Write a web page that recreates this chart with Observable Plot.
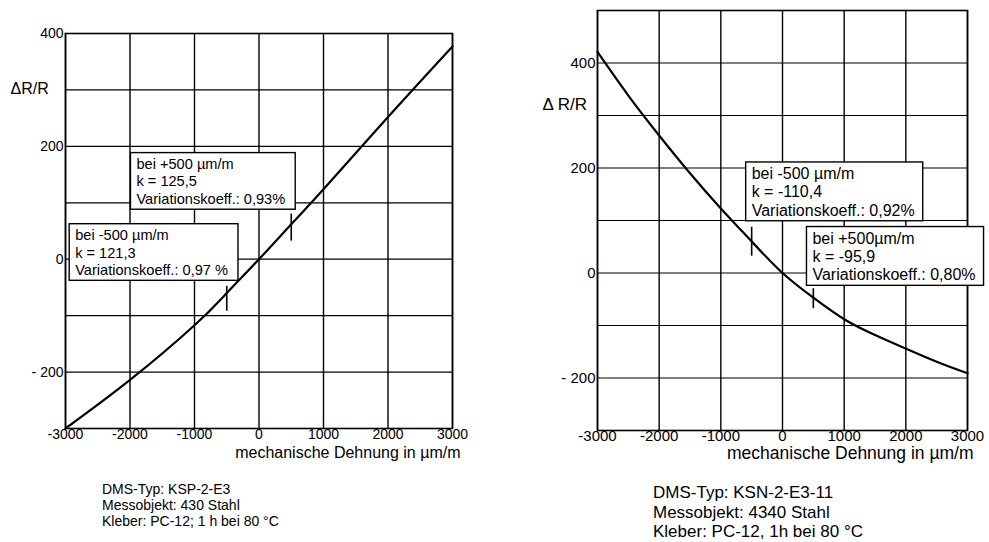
<!DOCTYPE html>
<html><head><meta charset="utf-8">
<script src="https://cdn.jsdelivr.net/npm/d3@7"></script>
<script src="https://cdn.jsdelivr.net/npm/@observablehq/plot@0.6"></script>
<style>
body{margin:0;background:#fff;font-family:"Liberation Sans",Arial,sans-serif;}
#wrap{position:relative;width:989px;height:542px;overflow:hidden;background:#fff;}
.panel{position:absolute;top:0;}
.cap{position:absolute;color:#000;white-space:pre;font-family:"Liberation Sans",Arial,sans-serif;}
</style></head><body><div id="wrap"></div>
<script>
// ---- data ----
const xTicks = [-3000, -2000, -1000, 0, 1000, 2000, 3000];
const xTickLabels = ["-3000", "-2000", "-1000", "0", "1000", "2000", "3000"];
const yTicks = [-200, 0, 200, 400];
const yTickLabels = ["- 200", "0", "200", "400"];

const leftStrain = [-3000, -2000, -1000, -500, 0, 500, 1000, 2000, 3000];
const leftDR     = [-300, -214, -117, -60, 0, 62, 124, 252, 377];
const leftMarkX  = [-500, 500];
const leftMarkY1 = [-48, 32];
const leftMarkY2 = [-92, 80];
const leftAnnX = [-1900, -2850];
const leftAnnY = [183, 57];
const leftAnnText = [
  "bei +500 µm/m\nk = 125,5\nVariationskoeff.: 0,93%",
  "bei -500 µm/m\nk = 121,3\nVariationskoeff.: 0,97 %"
];
const leftCaption = ["DMS-Typ: KSP-2-E3", "Messobjekt: 430 Stahl", "Kleber: PC-12; 1 h bei 80 °C"];

const rightStrain = [-3000, -2500, -2000, -1500, -1000, -500, 0, 500, 1000, 1500, 2000, 2500, 3000];
const rightDR     = [421, 338, 262, 190, 123, 60, 0, -47, -88, -118, -144, -169, -191];
const rightMarkX  = [-500, 500];
const rightMarkY1 = [32, -30];
const rightMarkY2 = [87, -68];
const rightAnnX = [-500, 486];
const rightAnnY = [204, 81];
const rightAnnText = [
  "bei -500 µm/m\nk = -110,4\nVariationskoeff.: 0,92%",
  "bei +500µm/m\nk = -95,9\nVariationskoeff.: 0,80%"
];
const rightCaption = ["DMS-Typ: KSN-2-E3-11", "Messobjekt: 4340 Stahl", "Kleber: PC-12, 1h bei 80 °C"];

const xTitle = "mechanische Dehnung in µm/m";

// ---- drawing ----
const wrap = document.getElementById("wrap");
const xLab = new Map(xTicks.map((d, i) => [d, xTickLabels[i]]));
const yLab = new Map(yTicks.map((d, i) => [d, yTickLabels[i]]));

function panel(cfg) {
  const pts = cfg.strain.map((x, i) => ({x, y: cfg.dr[i]}));
  const marks = cfg.markX.map((x, i) => ({x, y1: cfg.markY1[i], y2: cfg.markY2[i]}));
  const anns = cfg.annX.map((x, i) => ({x, y: cfg.annY[i], text: cfg.annText[i]}));
  const yGrid = d3.range(cfg.yDomain[0], cfg.yDomain[1] + 1, 100);
  const svg = Plot.plot({
    width: cfg.width, height: cfg.height,
    marginLeft: cfg.ml, marginRight: cfg.mr, marginTop: cfg.mt, marginBottom: cfg.mb,
    x: {domain: [-3000, 3000]},
    y: {domain: cfg.yDomain},
    style: {fontFamily: '"Liberation Sans", Arial, sans-serif', color: "#000", background: "#fff"},
    marks: [
      Plot.gridX(xTicks, {stroke: "#000", strokeOpacity: 1, strokeWidth: 1.4}),
      Plot.gridY(yGrid, {stroke: "#000", strokeOpacity: 1, strokeWidth: 1.2}),
      Plot.frame({stroke: "#000", strokeWidth: 1.6}),
      Plot.axisX(xTicks, {tickSize: 0, tickPadding: cfg.xPad, tickFormat: d => xLab.get(d), label: null, fontSize: cfg.tickFont}),
      Plot.axisY(yTicks, {tickSize: 0, tickPadding: 2, tickFormat: d => yLab.get(d), label: null, fontSize: cfg.tickFont}),
      Plot.line(pts, {x: "x", y: "y", curve: "natural", stroke: "#000", strokeWidth: 2.2}),
      Plot.ruleX(marks, {x: "x", y1: "y1", y2: "y2", stroke: "#000", strokeWidth: 1.6}),
      Plot.text([cfg.yTitle], {text: d => d, frameAnchor: "top-left", dx: cfg.yTdx, dy: cfg.yTdy, textAnchor: "start", fontSize: cfg.yTitleFont}),
      Plot.text([xTitle], {text: d => d, frameAnchor: "bottom-right", dx: cfg.xTdx, dy: cfg.xTdy, textAnchor: "end", fontSize: cfg.xTitleFont}),
      Plot.text(anns, {x: "x", y: "y", text: "text", textAnchor: "start", lineAnchor: "top", lineHeight: cfg.annLH, fontSize: cfg.annFont})
    ]
  });
  const div = document.createElement("div");
  div.className = "panel";
  div.style.left = cfg.left + "px";
  div.appendChild(svg);
  wrap.appendChild(div);
  // boxes behind annotation text (last text mark group)
  const groups = svg.querySelectorAll('g[aria-label="text"]');
  const annGroup = groups[groups.length - 1];
  annGroup.querySelectorAll("text").forEach(t => {
    const b = t.getBBox();
    const r = document.createElementNS("http://www.w3.org/2000/svg", "rect");
    r.setAttribute("x", b.x - 6);
    r.setAttribute("y", b.y - 3);
    r.setAttribute("width", b.width + 6 + cfg.padR);
    r.setAttribute("height", b.height + 5);
    r.setAttribute("fill", "#fff");
    r.setAttribute("stroke", "#000");
    r.setAttribute("stroke-width", 1.4);
    if (t.getAttribute("transform")) r.setAttribute("transform", t.getAttribute("transform"));
    t.parentNode.insertBefore(r, t);
  });
  const cap = document.createElement("div");
  cap.className = "cap";
  cap.style.left = cfg.capX + "px";
  cap.style.top = cfg.capY + "px";
  cap.style.fontSize = cfg.capFont + "px";
  cap.style.lineHeight = cfg.capLH + "px";
  cap.textContent = cfg.caption.join("\n");
  wrap.appendChild(cap);
}

panel({
  left: 0, width: 520, height: 470, ml: 65, mr: 68, mt: 33, mb: 42,
  yDomain: [-300, 400], strain: leftStrain, dr: leftDR,
  markX: leftMarkX, markY1: leftMarkY1, markY2: leftMarkY2,
  annX: leftAnnX, annY: leftAnnY, annText: leftAnnText, annFont: 14.6, annLH: 1.22, padR: 10,
  tickFont: 14, xPad: 1,
  yTitle: "ΔR/R", yTdx: -55, yTdy: 49, yTitleFont: 16,
  xTdx: 8, xTdy: 29, xTitleFont: 16,
  caption: leftCaption, capX: 102, capY: 481, capFont: 14, capLH: 16
});

panel({
  left: 520, width: 469, height: 470, ml: 77, mr: 22, mt: 10, mb: 40,
  yDomain: [-300, 500], strain: rightStrain, dr: rightDR,
  markX: rightMarkX, markY1: rightMarkY1, markY2: rightMarkY2,
  annX: rightAnnX, annY: rightAnnY, annText: rightAnnText, annFont: 16, annLH: 1.15, padR: 8,
  tickFont: 15, xPad: 0,
  yTitle: "Δ R/R", yTdx: -55, yTdy: 87, yTitleFont: 17,
  xTdx: 6, xTdy: 28, xTitleFont: 17.5,
  caption: rightCaption, capX: 653, capY: 483, capFont: 17, capLH: 19.5
});
</script>
</body></html>
